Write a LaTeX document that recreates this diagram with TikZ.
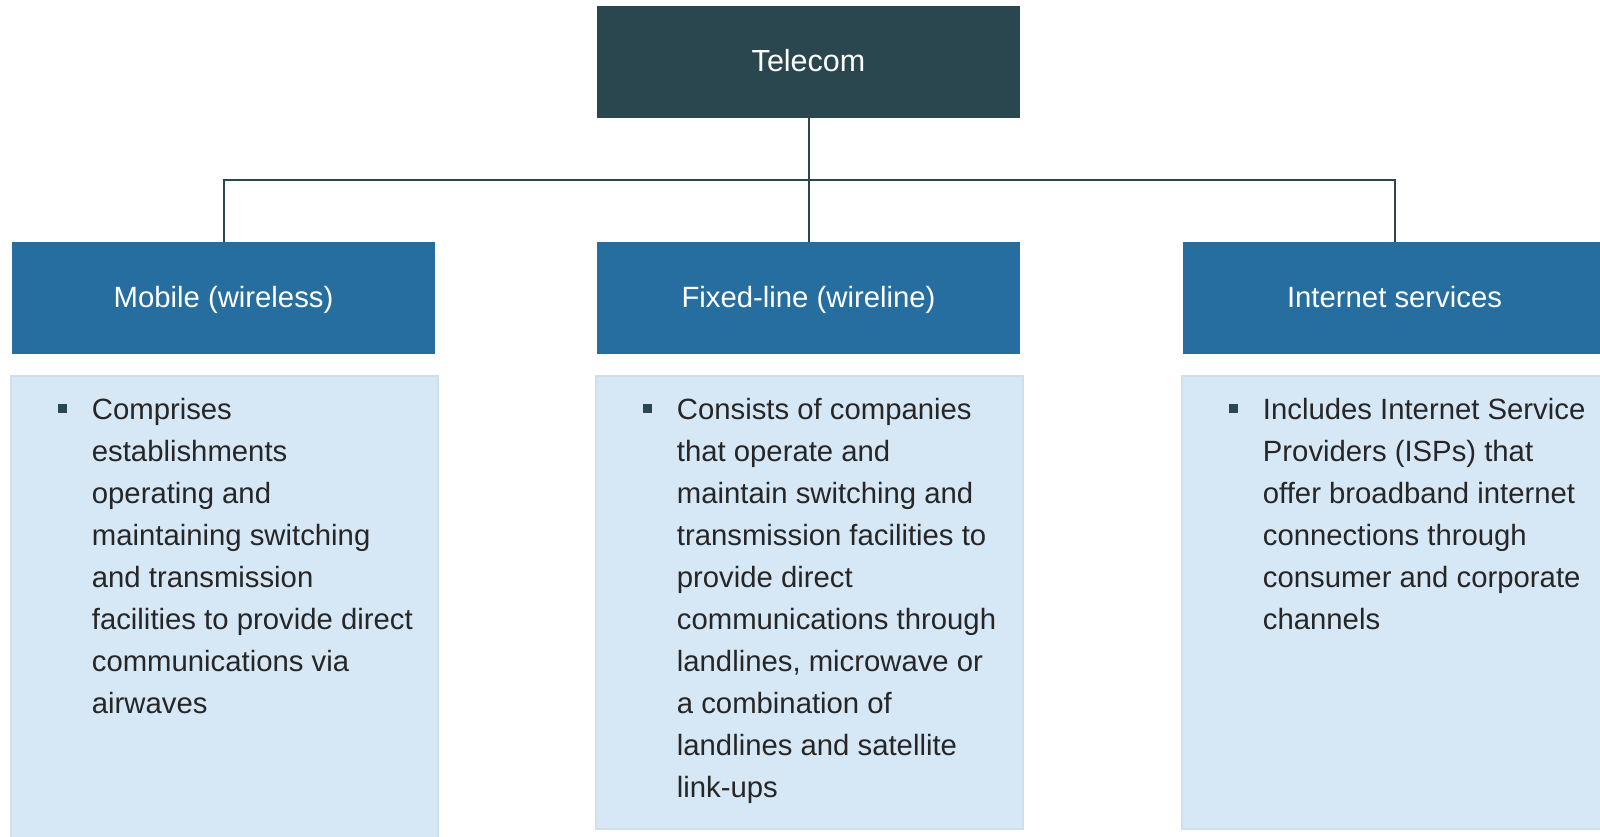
\documentclass[tikz,border=0pt]{standalone}
\usepackage{fontspec}
\setmainfont{Liberation Sans}
\usetikzlibrary{calc}
\definecolor{topdark}{HTML}{2A4750}
\definecolor{hdrblue}{HTML}{266E9F}
\definecolor{lightfill}{HTML}{D6E7F5}
\definecolor{lightedge}{HTML}{D0E0EA}
\definecolor{bodytext}{HTML}{262626}
\tikzset{
  topbox/.style={fill=topdark, draw=none, minimum width=423pt, minimum height=112pt, inner sep=0pt, text=white, text height=19.4pt, text depth=0pt, font=\fontsize{30.5}{36}\selectfont},
  hdrbox/.style={fill=hdrblue, draw=none, minimum width=423pt, minimum height=112pt, inner sep=0pt, text=white, text height=18.8pt, text depth=0pt, font=\fontsize{29.3}{36}\selectfont},
  detailbox/.style={fill=lightfill, draw=lightedge, line width=1.5pt, minimum width=427pt, inner sep=0pt},
  bulletmark/.style={fill=topdark, draw=none, minimum size=8.4pt, inner sep=0pt},
  bodytxt/.style={anchor=base west, inner sep=0pt, text=bodytext, font=\fontsize{29.3}{42}\selectfont},
  conn/.style={draw=topdark, line width=2pt}
}
\newcommand{\bodylines}[1]{\parbox[t]{420pt}{\fontsize{29.3}{42}\selectfont #1}}
\begin{document}
\begin{tikzpicture}[x=1pt,y=-1pt]
\clip (0,0) rectangle (1600,836);
\fill[white] (0,0) rectangle (1600,836);

% top
\node[topbox] (telecom) at (808.5,62) {Telecom};

% headers
\node[hdrbox] (mobile) at (223.5,298) {Mobile (wireless)};
\node[hdrbox] (fixed) at (808.5,298) {Fixed-line (wireline)};
\node[hdrbox] (internet) at (1394.5,298) {Internet services};

% connectors
\coordinate (bus) at (808.5,180);
\draw[conn] (telecom.south) -- (fixed.north);
\draw[conn] (mobile.north) |- (bus) -| (internet.north);

% detail boxes
\node[detailbox, minimum height=470pt, anchor=north west] (mobilebox) at (10,375) {};
\node[detailbox, minimum height=453pt, anchor=north west] (fixedbox) at (595,375) {};
\node[detailbox, minimum height=453pt, anchor=north west] (internetbox) at (1181,375) {};

% bullets
\node[bulletmark] (mobilebullet) at ($(mobilebox.north west)+(52.5,33.3)$) {};
\node[bulletmark] (fixedbullet) at ($(fixedbox.north west)+(52.5,33.3)$) {};
\node[bulletmark] (internetbullet) at ($(internetbox.north west)+(52.5,33.3)$) {};

% texts
\node[bodytxt] (mobiletxt) at ($(mobilebox.north west)+(81.7,44.3)$) {\bodylines{Comprises\\establishments\\operating and\\maintaining switching\\and transmission\\facilities to provide direct\\communications via\\airwaves}};
\node[bodytxt] (fixedtxt) at ($(fixedbox.north west)+(81.7,44.3)$) {\bodylines{Consists of companies\\that operate and\\maintain switching and\\transmission facilities to\\provide direct\\communications through\\landlines, microwave or\\a combination of\\landlines and satellite\\link-ups}};
\node[bodytxt] (internettxt) at ($(internetbox.north west)+(81.7,44.3)$) {\bodylines{Includes Internet Service\\Providers (ISPs) that\\offer broadband internet\\connections through\\consumer and corporate\\channels}};
\end{tikzpicture}
\end{document}
